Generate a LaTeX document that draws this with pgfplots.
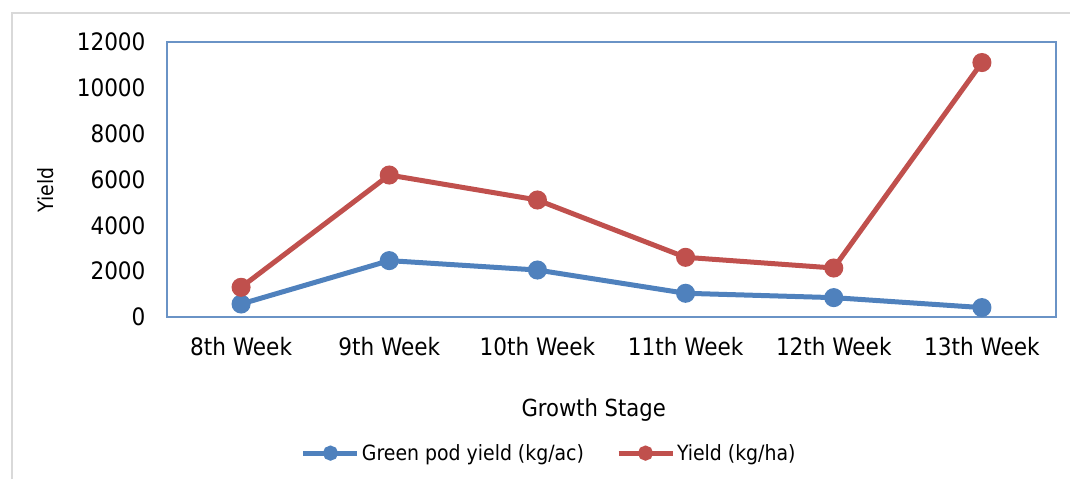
\documentclass[border=0pt]{standalone}
\usepackage{fontspec}
\setmainfont{DejaVu Sans Condensed}
\usepackage{pgfplots}
\pgfplotsset{compat=1.18}
\definecolor{cblue}{HTML}{4F81BD}
\definecolor{cred}{HTML}{C0504D}
\definecolor{cframe}{HTML}{6A93C6}
\newcommand{\ticksz}{\fontsize{24}{28}\selectfont}
\newcommand{\titlesz}{\fontsize{23.5}{28}\selectfont}
\newcommand{\legsz}{\fontsize{21}{25}\selectfont}

\pgfplotstableread{
x green yield
0 567 1296
1 2460 6195
2 2050 5105
3 1035 2604
4 845 2138
5 410 11104
}\yielddata

\begin{document}
\begin{tikzpicture}
\path[use as bounding box] (0,0) rectangle (1070pt,479pt);
\draw[black!15, line width=2pt] (12pt,0) -- (12pt,466pt) -- (1070pt,466pt);
\begin{axis}[
  at={(167pt,162pt)}, anchor=south west,
  width=889pt, height=275pt, scale only axis,
  axis line style={cframe, line width=1.2pt},
  xmin=-0.5, xmax=5.5, ymin=0, ymax=12000,
  xtick={0,1,2,3,4,5},
  xticklabels={8th Week,9th Week,10th Week,11th Week,12th Week,13th Week},
  ytick={0,2000,4000,6000,8000,10000,12000},
  scaled y ticks=false,
  major tick length=0pt,
  tick label style={font=\ticksz},
  xticklabel style={yshift=-17pt},
  yticklabel style={xshift=-18pt},
  /pgf/number format/1000 sep={},
  /pgf/number format/assume math mode=true,
  xlabel={Growth Stage},
  xlabel style={font=\titlesz, at={(axis description cs:0.48,-0.338)}, anchor=center},
  ylabel={Yield},
  ylabel style={font=\legsz, at={(axis description cs:-0.136,0.462)}, anchor=center},
  legend columns=2,
  legend style={draw=none, fill=none, font=\legsz,
    at={(axis description cs:0.43,-0.495)}, anchor=center,
    /tikz/every even column/.append style={column sep=30pt}},
  legend image code/.code={%
    \draw[mark repeat=2,mark phase=2,#1] plot coordinates {(0pt,0pt) (27pt,0pt) (54pt,0pt)};},
  legend image post style={mark size=5pt},
  legend cell align=left,
]
\addplot[cblue, line width=5pt, mark=*, mark size=7pt] table[x=x, y=green] {\yielddata};
\addlegendentry{Green pod yield (kg/ac)}
\addplot[cred, line width=5pt, mark=*, mark size=7pt] table[x=x, y=yield] {\yielddata};
\addlegendentry{Yield (kg/ha)}
\end{axis}
\end{tikzpicture}
\end{document}
